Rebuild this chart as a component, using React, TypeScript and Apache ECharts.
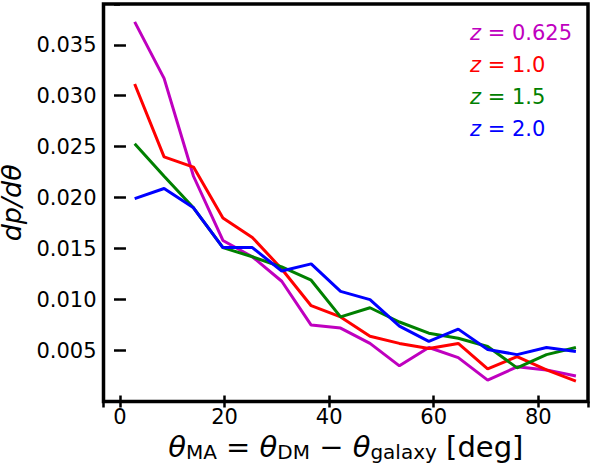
import React, { useEffect, useRef } from 'react';
import * as echarts from 'echarts';

// bin centres of theta_MA [deg], 16 bins over 0..90
const thetaBins = [
  2.8125, 8.4375, 14.0625, 19.6875, 25.3125, 30.9375, 36.5625, 42.1875,
  47.8125, 53.4375, 59.0625, 64.6875, 70.3125, 75.9375, 81.5625, 87.1875,
];

const redshifts = ['0.625', '1.0', '1.5', '2.0'];

const dpZ0625 = [
  0.03725, 0.0317, 0.0221, 0.0158, 0.0142, 0.0118, 0.0075, 0.0072,
  0.0057, 0.0035, 0.0053, 0.0043, 0.0021, 0.0034, 0.0031, 0.0025,
];
const dpZ1 = [
  0.03115, 0.024, 0.023, 0.018, 0.0161, 0.013, 0.0094, 0.0083,
  0.0064, 0.0057, 0.0052, 0.0057, 0.0032, 0.0044, 0.0031, 0.002,
];
const dpZ15 = [
  0.0253, 0.0221, 0.019, 0.0151, 0.0142, 0.0132, 0.0119, 0.0083,
  0.0092, 0.0078, 0.0067, 0.0062, 0.0054, 0.0033, 0.0046, 0.0053,
];
const dpZ2 = [
  0.0199, 0.0209, 0.019, 0.0151, 0.0151, 0.0128, 0.0135, 0.0108,
  0.01, 0.0074, 0.0059, 0.0071, 0.0051, 0.0046, 0.0053, 0.0049,
];

const allSeries = [dpZ0625, dpZ1, dpZ15, dpZ2];
const colors = ['#bf00bf', '#ff0000', '#008000', '#0000ff'];

export default function App() {
  const ref = useRef<HTMLDivElement>(null);

  useEffect(() => {
    if (!ref.current) return;
    const chart = echarts.init(ref.current, undefined, { renderer: 'svg' });
    const font = 'DejaVu Sans';

    const tick = () => ({
      show: true,
      inside: true,
      length: 6,
      lineStyle: { color: '#000', width: 2.5 },
    });
    const xRange = () => ({ min: -3.15, max: 89.5, minInterval: 20, maxInterval: 20, splitNumber: 5 });
    const yRange = () => ({ min: 0, max: 0.039, interval: 0.005 });

    const names = redshifts.map((r) => `z = ${r}`);

    chart.setOption({
      animation: false,
      textStyle: { fontFamily: font },
      grid: {
        left: 103.5,
        right: 7,
        top: 4,
        bottom: 61.5,
        containLabel: false,
        outerBoundsMode: 'none',
        show: true,
        borderColor: '#000',
        borderWidth: 3.5,
        backgroundColor: 'transparent',
      },
      legend: {
        orient: 'vertical',
        left: 465,
        top: 21,
        padding: 0,
        itemGap: 8,
        itemWidth: 0,
        itemHeight: 10,
        icon: 'none',
        selectedMode: false,
        formatter: (name: string) => '{i|z}' + name.slice(1),
        textStyle: {
          fontFamily: font,
          fontSize: 21,
          lineHeight: 24,
          rich: { i: { fontStyle: 'italic', fontSize: 21, fontFamily: font } },
        },
        data: names.map((n, i) => ({ name: n, textStyle: { color: colors[i] } })),
      },
      xAxis: [
        {
          type: 'value',
          ...xRange(),
          position: 'bottom',
          axisLine: { show: false },
          axisTick: tick(),
          splitLine: { show: false },
          axisLabel: {
            color: '#000',
            fontSize: 21,
            fontFamily: font,
            margin: 5,
            showMinLabel: false,
            showMaxLabel: false,
          },
          name: '{t|θ}{s|MA}{n| = }{t|θ}{s|DM}{n| − }{t|θ}{s|galaxy}{n| [deg]}',
          nameLocation: 'middle',
          nameGap: 29,
          nameTextStyle: {
            color: '#000',
            fontFamily: font,
            rich: {
              t: { fontStyle: 'italic', fontSize: 29, lineHeight: 30, fontFamily: font },
              n: { fontSize: 29, lineHeight: 30, fontFamily: font },
              s: { fontSize: 20, lineHeight: 20, verticalAlign: 'bottom', fontFamily: font },
            },
          },
        },
        {
          type: 'value',
          ...xRange(),
          position: 'top',
          axisLine: { show: false },
          axisTick: tick(),
          splitLine: { show: false },
          axisLabel: { show: false },
        },
      ],
      yAxis: [
        {
          type: 'value',
          ...yRange(),
          position: 'left',
          axisLine: { show: false },
          axisTick: tick(),
          splitLine: { show: false },
          axisLabel: {
            color: '#000',
            fontSize: 21,
            fontFamily: font,
            margin: 7,
            showMinLabel: false,
            showMaxLabel: false,
            formatter: (v: number) => v.toFixed(3),
          },
          name: 'dp/dθ',
          nameLocation: 'middle',
          nameGap: 74,
          nameRotate: 90,
          nameTextStyle: {
            color: '#000',
            fontFamily: font,
            fontSize: 27,
            lineHeight: 27,
            fontStyle: 'italic',
          },
        },
        {
          type: 'value',
          ...yRange(),
          position: 'right',
          axisLine: { show: false },
          axisTick: tick(),
          splitLine: { show: false },
          axisLabel: { show: false },
        },
      ],
      series: allSeries.map((vals, i) => ({
        name: names[i],
        type: 'line',
        xAxisIndex: 0,
        yAxisIndex: 0,
        data: thetaBins.map((x, k) => [x, vals[k]]),
        symbol: 'none',
        lineStyle: { width: 3, color: colors[i] },
        itemStyle: { color: colors[i] },
      })),
    });

    return () => {
      chart.dispose();
    };
  }, []);

  return (
    <div
      ref={ref}
      style={{ position: 'absolute', left: 0, top: 0, width: 595, height: 463 }}
    />
  );
}
